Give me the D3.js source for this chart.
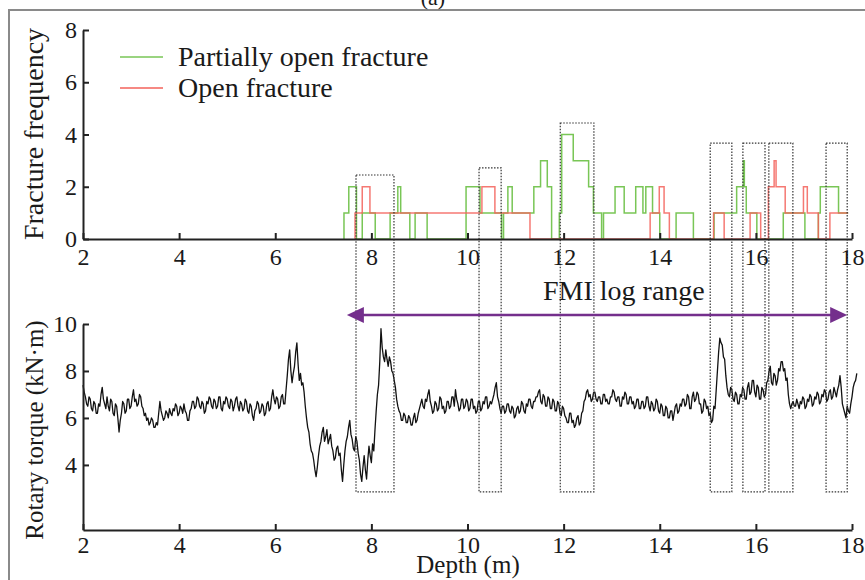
<!DOCTYPE html>
<html>
<head>
<meta charset="utf-8">
<script src="https://cdn.jsdelivr.net/npm/d3@7"></script>
<style>
  body { margin: 0; background: #fff; }
  svg text { font-family: "Liberation Serif", "Times New Roman", serif; fill: #1a1a1a; }
</style>
</head>
<body>
<div id="chart"></div>
<script>
var width = 865, height = 580;

// ticks
var depthTicks = [2, 4, 6, 8, 10, 12, 14, 16, 18];
var freqTicks = [0, 2, 4, 6, 8];
var torqueTicks = [4, 6, 8, 10];

// fracture frequency, step changes (depth in m -> count from that depth on)
var partialDepth = [7.43, 7.53, 7.69, 7.81, 8.08, 8.39, 8.55, 8.61, 8.80, 8.91, 9.16, 9.97, 10.26, 10.71, 10.75, 10.84, 10.93,
                    11.38, 11.52, 11.66, 11.75, 11.91, 11.96, 12.20, 12.52, 12.62, 12.79, 12.83, 13.07, 13.26, 13.50, 13.65,
                    13.71, 13.85, 14.00, 14.34, 14.70, 15.13, 15.60, 15.74, 15.76, 15.80, 16.02, 16.57, 17.02, 17.30, 17.34, 17.72];
var partialCount = [1, 2, 0, 1, 0, 1, 2, 1, 0, 1, 0, 2, 1, 0, 1, 2, 1,
                    2, 3, 2, 0, 1, 4, 3, 2, 1, 0, 1, 2, 1, 2, 1,
                    2, 1, 0, 1, 0, 1, 2, 3, 2, 1, 0, 1, 0, 1, 2, 1];
var openDepth = [7.66, 7.81, 7.97, 10.30, 10.57, 11.30, 13.80, 13.99, 14.09, 14.20, 15.12, 15.34, 15.88, 16.10,
                 16.26, 16.38, 16.42, 16.61, 16.99, 17.07, 17.30, 17.54];
var openCount = [1, 2, 1, 2, 1, 0, 1, 2, 1, 0, 1, 0, 1, 0,
                 2, 3, 2, 1, 2, 1, 0, 1];
var fractureEnd = 17.92;

// rotary torque (kN·m), read every 0.025 m from 2.000 m (one row = 0.5 m)
var torqueStart = 2.0, torqueStep = 0.025;
var torque = [
  7.4, 7.1, 6.9, 6.6, 6.5,  6.9, 6.8, 6.4, 6.3, 6.7,  6.6, 6.2, 6.2, 6.6, 6.5,  7.0, 7.3, 6.8, 6.6, 6.4,
  6.9, 6.5, 6.3, 6.8, 6.7,  6.2, 6.1, 6.6, 6.5, 6.0,  5.4, 5.9, 6.2, 6.7, 6.6,  6.2, 6.3, 6.8, 6.8, 6.4,
  6.5, 6.9, 7.2, 6.7, 6.8,  6.5, 6.6, 7.0, 6.9, 6.5,  6.4, 6.1, 6.2, 5.9, 6.0,  5.7, 5.8, 6.0, 5.9, 5.6,
  5.6, 5.8, 5.7, 6.2, 6.7,  6.3, 6.1, 5.9, 6.0, 6.3,  6.2, 6.0, 6.4, 6.2, 6.1,  6.4, 6.3, 6.6, 6.5, 6.1,
  6.2, 6.5, 6.4, 6.2, 6.6,  6.3, 6.2, 5.9, 5.9, 6.3,  6.4, 6.7, 6.7, 6.4, 6.5,  6.9, 6.8, 6.5, 6.4, 6.7,
  6.6, 6.2, 6.3, 6.7, 6.6,  6.9, 6.8, 6.5, 6.4, 6.8,  6.7, 6.4, 6.5, 6.9, 6.9,  6.4, 6.3, 6.7, 6.6, 6.9,
  6.8, 6.5, 6.4, 6.8, 6.7,  6.3, 6.5, 6.8, 6.9, 6.5,  6.3, 6.7, 6.6, 6.3, 6.4,  6.8, 6.7, 6.3, 6.2, 6.6,
  6.5, 6.1, 5.9, 6.3, 6.4,  6.7, 6.6, 6.2, 6.3, 6.6,  6.5, 6.1, 6.2, 6.6, 6.7,  6.3, 6.4, 6.9, 7.2, 6.8,
  6.6, 6.9, 6.8, 6.4, 6.5,  6.9, 7.0, 6.6, 6.6, 7.2,  7.8, 8.5, 8.9, 8.0, 7.5,  7.9, 8.2, 8.8, 9.2, 8.3,
  7.6, 7.9, 7.4, 7.5, 7.1,  6.5, 6.0, 5.6, 5.4, 4.9,  4.6, 4.5, 4.2, 3.8, 3.5,  3.9, 4.4, 4.8, 5.0, 5.4,
  5.6, 5.0, 5.2, 5.5, 4.9,  5.1, 5.3, 4.8, 4.6, 4.2,  4.3, 4.7, 4.8, 4.4, 4.5,  3.8, 3.3, 4.0, 4.6, 5.0,
  5.2, 5.6, 5.9, 5.3, 5.1,  4.7, 4.6, 5.2, 5.0, 4.5,  4.2, 3.6, 3.3, 3.9, 4.4,  3.8, 3.4, 4.2, 4.8, 4.4,
  4.1, 4.9, 4.6, 5.5, 6.3,  7.0, 7.4, 8.4, 9.8, 9.0,  8.6, 8.4, 8.9, 8.5, 8.2,  8.6, 8.4, 8.0, 7.9, 7.6,
  7.3, 6.8, 6.5, 6.3, 6.2,  5.9, 5.9, 6.2, 6.1, 5.8,  5.8, 6.1, 6.0, 5.7, 5.7,  6.0, 6.2, 5.8, 5.9, 6.2,
  6.4, 6.6, 6.8, 6.5, 6.4,  6.8, 6.7, 7.0, 7.2, 6.7,  6.5, 6.2, 6.3, 6.7, 6.6,  6.3, 6.4, 6.9, 6.8, 6.4,
  6.5, 6.2, 6.3, 6.7, 6.7,  6.4, 6.5, 6.9, 6.9, 6.5,  7.2, 6.8, 6.6, 6.3, 6.4,  6.8, 6.8, 6.4, 6.5, 6.8,
  6.7, 6.3, 6.4, 6.8, 6.8,  6.4, 6.5, 6.2, 6.3, 6.7,  6.7, 6.3, 6.4, 6.7, 6.6,  6.9, 6.9, 6.4, 6.5, 6.7,
  6.6, 6.8, 7.0, 7.3, 7.5,  6.9, 6.7, 6.4, 6.2, 6.5,  6.5, 6.2, 6.3, 6.6, 6.6,  6.3, 6.2, 6.5, 6.4, 6.0,
  6.1, 6.4, 6.5, 6.2, 6.3,  6.7, 6.6, 6.3, 6.2, 6.6,  6.5, 6.8, 6.8, 6.5, 6.4,  6.7, 6.7, 6.9, 6.9, 7.1,
  7.2, 6.7, 6.6, 7.0, 6.9,  6.5, 6.5, 6.9, 6.8, 6.4,  6.4, 6.8, 6.7, 6.3, 6.3,  6.7, 6.6, 6.2, 6.1, 6.5,
  6.4, 6.1, 6.0, 5.8, 5.8,  6.2, 6.2, 5.8, 5.9, 5.6,  5.7, 6.0, 6.1, 5.7, 5.8,  6.2, 6.3, 6.7, 6.8, 7.1,
  7.2, 6.9, 7.0, 6.7, 6.8,  7.1, 7.1, 6.8, 6.7, 6.9,  6.9, 6.6, 6.6, 7.0, 7.0,  6.7, 6.8, 6.6, 6.6, 6.9,
  6.9, 7.2, 7.1, 6.8, 6.7,  6.9, 6.9, 6.5, 6.5, 6.9,  6.8, 7.1, 7.0, 6.6, 6.6,  6.9, 6.9, 6.6, 6.7, 6.4,
  6.5, 6.8, 6.8, 6.4, 6.4,  6.7, 6.7, 6.4, 6.5, 6.9,  6.9, 6.5, 6.3, 6.7, 6.6,  6.3, 6.4, 6.8, 6.7, 6.3,
  6.2, 6.6, 6.5, 6.1, 6.1,  6.5, 6.4, 6.0, 6.0, 6.3,  6.3, 5.9, 6.2, 6.5, 6.6,  6.2, 6.3, 6.6, 6.5, 6.8,
  6.8, 6.5, 6.6, 7.0, 6.9,  6.4, 6.4, 6.9, 7.1, 6.7,  6.8, 7.1, 7.0, 6.6, 6.6,  6.2, 6.3, 6.8, 6.7, 6.4,
  6.5, 6.1, 6.2, 5.8, 5.9,  6.5, 6.4, 7.2, 8.0, 8.8,  9.4, 9.2, 9.1, 8.6, 8.5,  7.8, 7.3, 7.0, 6.9, 7.3,
  7.2, 6.8, 6.7, 7.1, 7.0,  6.6, 6.6, 7.0, 6.9, 7.3,  7.2, 6.8, 6.8, 7.3, 7.5,  7.0, 7.1, 7.6, 7.6, 7.1,
  6.9, 7.4, 7.3, 6.8, 6.8,  7.3, 7.2, 6.9, 7.0, 7.5,  7.6, 8.0, 8.2, 7.5, 7.4,  7.9, 7.8, 7.4, 7.6, 8.1,
  8.0, 8.4, 8.4, 8.0, 8.1,  7.6, 7.7, 7.0, 6.6, 6.4,  6.6, 6.7, 6.5, 6.5, 6.8,  6.6, 6.4, 6.7, 6.6, 6.9,
  6.8, 6.4, 6.5, 6.8, 6.7,  7.0, 6.9, 6.5, 6.6, 6.9,  6.8, 7.1, 7.0, 6.6, 6.7,  7.0, 6.9, 7.2, 7.1, 6.7,
  6.8, 7.1, 7.2, 6.8, 6.9,  7.3, 7.1, 6.9, 7.2, 7.4,  7.8, 7.3, 6.6, 6.4, 6.2,  6.0, 6.5, 6.3, 6.2, 6.6,
  6.9, 7.3, 7.5, 7.6, 7.9
];

// dotted boxes (depth range, top as fracture count, bottom as torque)
var boxFrom = [7.68, 10.24, 11.93, 15.05, 15.73, 16.27, 17.46];
var boxTo   = [8.47, 10.70, 12.63, 15.50, 16.19, 16.77, 17.90];
var boxTop  = [2.45, 2.72, 4.44, 3.67, 3.67, 3.67, 3.67];
var boxBottom = 2.85;

var fmiRange = [7.49, 17.90];

var green = "#79c656", red = "#f3625a", purple = "#742f8c";

var svg = d3.select("#chart").append("svg")
    .attr("width", width)
    .attr("height", height);

var x = d3.scaleLinear().domain([2, 18]).range([83, 852]),
    yFreq = d3.scaleLinear().domain([0, 8]).range([239, 30]),
    yTorque = d3.scaleLinear().domain([1.23, 10]).range([530, 324]);

// frame
svg.append("path")
    .attr("d", "M9,580V10H865")
    .attr("fill", "none")
    .attr("stroke", "#8a8a8a")
    .attr("stroke-width", 2);

svg.append("text")
    .attr("x", 433).attr("y", 5)
    .attr("text-anchor", "middle")
    .attr("font-size", 22)
    .text("(a)");

// fracture step lines
function stepData(depths, counts){
    var pts = [{d: depths[0], v: 0}];
    depths.forEach(function(d, i){ pts.push({d: d, v: counts[i]}); });
    pts.push({d: fractureEnd, v: counts[counts.length - 1]});
    return pts;
}

var stepLine = d3.line()
    .curve(d3.curveStepAfter)
    .x(function(p){ return x(p.d); })
    .y(function(p){ return yFreq(p.v); });

svg.append("path")
    .datum(stepData(partialDepth, partialCount))
    .attr("d", stepLine)
    .attr("fill", "none")
    .attr("stroke", green)
    .attr("stroke-width", 1.5);

svg.append("path")
    .datum(stepData(openDepth, openCount))
    .attr("d", stepLine)
    .attr("fill", "none")
    .attr("stroke", red)
    .attr("stroke-opacity", 0.85)
    .attr("stroke-width", 1.5);

// torque trace
var torqueLine = d3.line()
    .x(function(v, i){ return x(torqueStart + i * torqueStep); })
    .y(function(v){ return yTorque(v); });

svg.append("path")
    .datum(torque)
    .attr("d", torqueLine)
    .attr("fill", "none")
    .attr("stroke", "#111")
    .attr("stroke-width", 1.3)
    .attr("stroke-linejoin", "round");

// dotted boxes
svg.append("g").selectAll("rect")
    .data(boxFrom)
    .enter().append("rect")
    .attr("x", function(d){ return x(d); })
    .attr("width", function(d, i){ return x(boxTo[i]) - x(d); })
    .attr("y", function(d, i){ return yFreq(boxTop[i]); })
    .attr("height", function(d, i){ return yTorque(boxBottom) - yFreq(boxTop[i]); })
    .attr("fill", "none")
    .attr("stroke", "#333")
    .attr("stroke-width", 1.2)
    .attr("stroke-dasharray", "1.5,1.5");

// axes
function styleAxis(g){
    g.attr("font-family", null).attr("font-size", 24);
    g.select(".domain").attr("stroke", "#222").attr("stroke-width", 2);
    g.selectAll(".tick line").attr("stroke", "#222").attr("stroke-width", 2);
    g.selectAll(".tick text").attr("fill", "#1a1a1a");
}

svg.append("g")
    .attr("transform", "translate(0," + yFreq(0) + ")")
    .call(d3.axisBottom(x).tickValues(depthTicks).tickSize(-6).tickSizeOuter(0).tickPadding(9))
    .call(styleAxis);

svg.append("g")
    .attr("transform", "translate(" + x(2) + ",0)")
    .call(d3.axisLeft(yFreq).tickValues(freqTicks).tickSize(-6).tickSizeOuter(0).tickPadding(6))
    .call(styleAxis);

svg.append("g")
    .attr("transform", "translate(0," + yTorque.range()[0] + ")")
    .call(d3.axisBottom(x).tickValues(depthTicks).tickSize(-6).tickSizeOuter(0).tickPadding(6))
    .call(styleAxis);

svg.append("g")
    .attr("transform", "translate(" + x(2) + ",0)")
    .call(d3.axisLeft(yTorque).tickValues(torqueTicks).tickSize(-6).tickSizeOuter(0).tickPadding(6))
    .call(styleAxis);

// axis titles
svg.append("text")
    .attr("transform", "translate(43,134) rotate(-90)")
    .attr("text-anchor", "middle")
    .attr("font-size", 28)
    .text("Fracture frequency");

svg.append("text")
    .attr("transform", "translate(43,430) rotate(-90)")
    .attr("text-anchor", "middle")
    .attr("font-size", 25)
    .text("Rotary torque (kN·m)");

svg.append("text")
    .attr("x", 468).attr("y", 573)
    .attr("text-anchor", "middle")
    .attr("font-size", 25)
    .text("Depth (m)");

// legend
var legendNames = ["Partially open fracture", "Open fracture"],
    legendColors = [green, red];
var legend = svg.append("g").selectAll("g")
    .data(legendNames)
    .enter().append("g")
    .attr("transform", function(d, i){ return "translate(120," + (57 + i * 31) + ")"; });
legend.append("line")
    .attr("x1", 0).attr("x2", 43)
    .attr("stroke", function(d, i){ return legendColors[i]; })
    .attr("stroke-width", 1.5);
legend.append("text")
    .attr("x", 58).attr("y", 9)
    .attr("font-size", 28)
    .text(function(d){ return d; });

// FMI log range arrow
var arrowY = 315;
svg.append("line")
    .attr("x1", x(fmiRange[0]) + 10).attr("x2", x(fmiRange[1]) - 10)
    .attr("y1", arrowY).attr("y2", arrowY)
    .attr("stroke", purple)
    .attr("stroke-width", 2.5);
svg.append("path")
    .attr("d", "M" + x(fmiRange[0]) + "," + arrowY + "l17,-8v16z")
    .attr("fill", purple);
svg.append("path")
    .attr("d", "M" + x(fmiRange[1]) + "," + arrowY + "l-17,-8v16z")
    .attr("fill", purple);
svg.append("text")
    .attr("x", 543).attr("y", 300)
    .attr("font-size", 28)
    .text("FMI log range");
</script>
</body>
</html>
